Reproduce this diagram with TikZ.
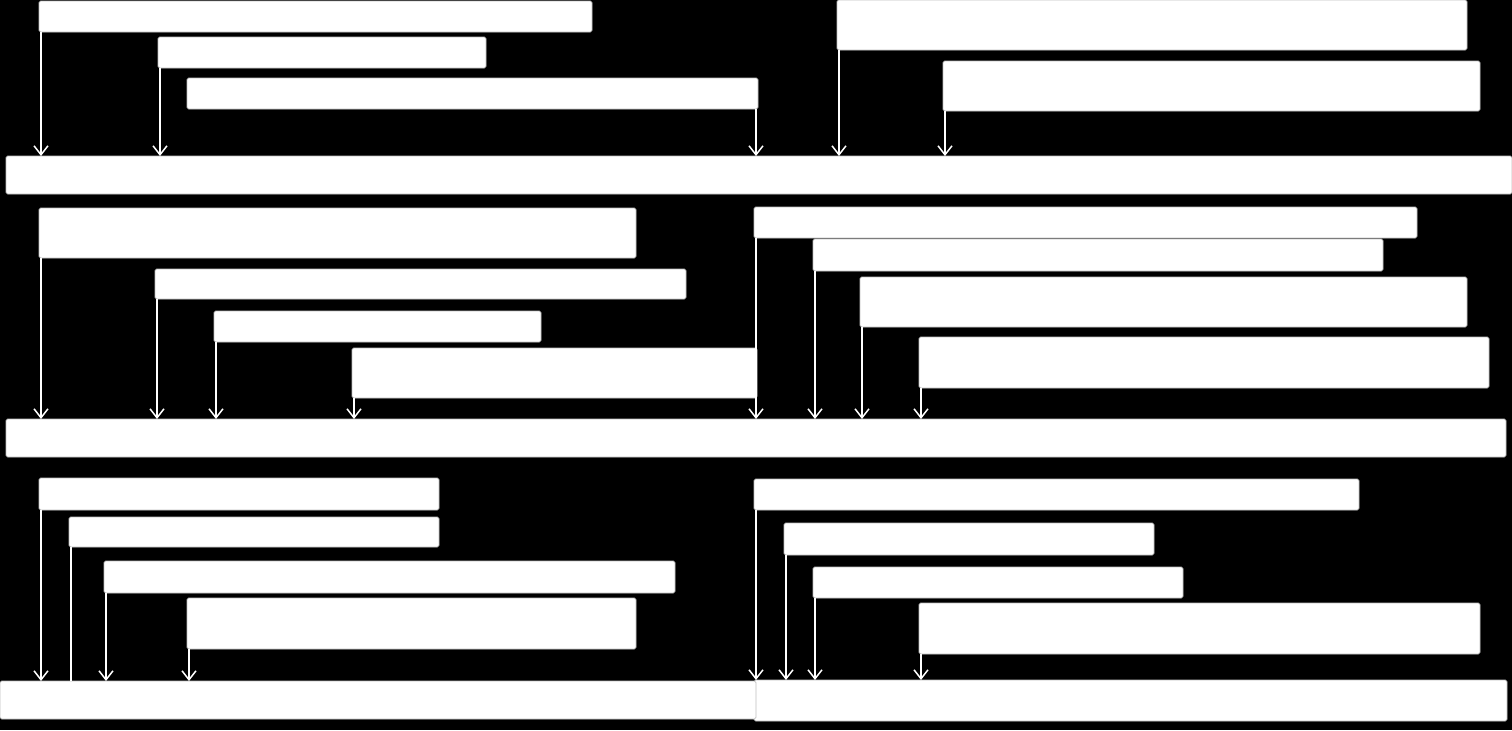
\documentclass[tikz,border=0pt]{standalone}
\usetikzlibrary{arrows.meta}

% one white slab: name, left, top, right, bottom (in pixels)
\newcommand{\slab}[5]{\node [slabbox, minimum width={(#4-#2)*0.5pt}, minimum height={(#5-#3)*0.5pt}] (#1) at (#2,#3) {};}

\begin{document}
\begin{tikzpicture}[x=0.5pt, y=-0.5pt,
    slabbox/.style={fill=white, draw=white!75!black, line width=0.4pt, rounded corners=0.8pt, anchor=north west, inner sep=0pt, outer sep=0pt},
    drop/.style={draw=white, line width=0.75pt, -{Straight Barb[length=4.5pt,width=7pt]}},
    stem/.style={draw=white, line width=0.75pt}]
        \fill [black] (0,0) rectangle (1512,730);
        \useasboundingbox (0,0) rectangle (1512,730);
        % first band
        \slab{A1}{39}{1}{592}{32}
        \slab{A2}{158}{37}{486}{68}
        \slab{A3}{187}{78}{758}{109}
        \slab{B1}{837}{0}{1467}{50}
        \slab{B2}{943}{61}{1480}{111}
        \slab{bar1}{6}{156}{1512}{194}
        % second band
        \slab{C1}{39}{208}{636}{258}
        \slab{C2}{155}{269}{686}{299}
        \slab{C3}{214}{311}{541}{342}
        \slab{C4}{352}{348}{757}{398}
        \slab{D1}{754}{207}{1417}{238}
        \slab{D2}{813}{239}{1383}{271}
        \slab{D3}{860}{277}{1467}{327}
        \slab{D4}{919}{337}{1489}{388}
        \slab{bar2}{6}{419}{1506}{457}
        % third band
        \slab{E1}{39}{478}{439}{510}
        \slab{E2}{69}{517}{439}{547}
        \slab{E3}{104}{561}{675}{593}
        \slab{E4}{187}{598}{636}{649}
        \slab{F1}{754}{479}{1359}{510}
        \slab{F2}{784}{523}{1154}{555}
        \slab{F3}{813}{567}{1183}{598}
        \slab{F4}{919}{603}{1480}{654}
        \slab{bar3r}{754}{680}{1507}{721}
        \slab{bar3l}{0}{681}{756}{719}
        % drops onto the bars
        \foreach \s in {A1,A2,B1,B2}
            \draw [drop] ([xshift=1pt]\s.south west) -- ([xshift=1pt]\s.south west |- bar1.north);
        \draw [drop] ([xshift=-1pt]A3.south east) -- ([xshift=-1pt]A3.south east |- bar1.north);
        \foreach \s in {C1,C2,C3,C4,D1,D2,D3,D4}
            \draw [drop] ([xshift=1pt]\s.south west) -- ([xshift=1pt]\s.south west |- bar2.north);
        \foreach \s in {E1,E3,E4}
            \draw [drop] ([xshift=1pt]\s.south west) -- ([xshift=1pt]\s.south west |- bar3l.north);
        \draw [stem] ([xshift=1pt]E2.south west) -- ([xshift=1pt]E2.south west |- bar3l.north);
        \foreach \s in {F1,F2,F3,F4}
            \draw [drop] ([xshift=1pt]\s.south west) -- ([xshift=1pt]\s.south west |- bar3r.north);
    \end{tikzpicture}
\end{document}
